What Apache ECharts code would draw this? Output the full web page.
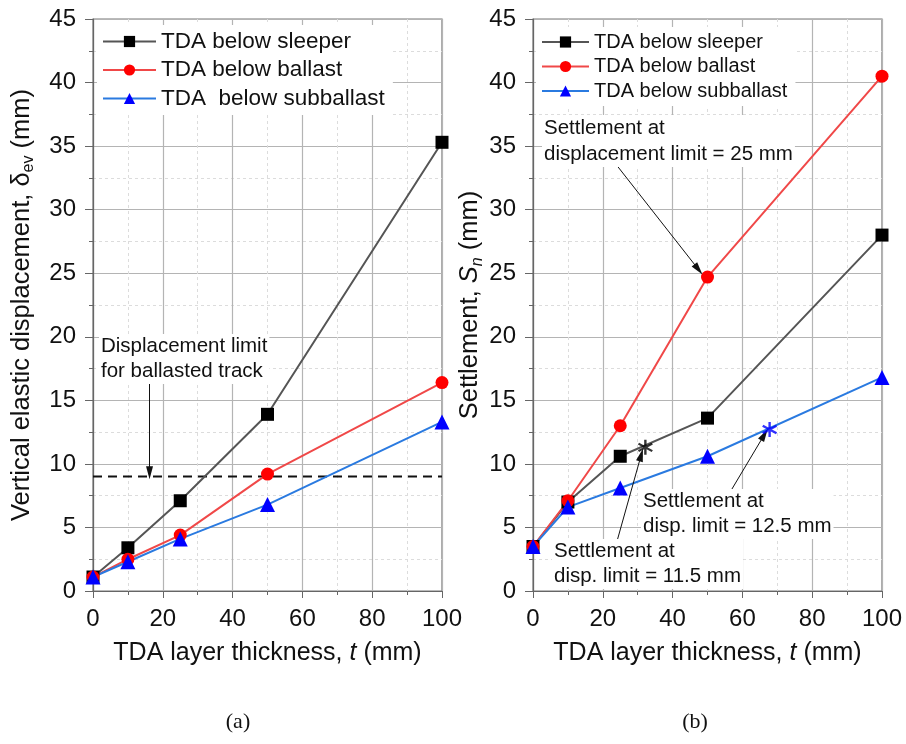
<!DOCTYPE html>
<html>
<head>
<meta charset="utf-8">
<script src="https://cdn.jsdelivr.net/npm/echarts@6/dist/echarts.min.js"></script>
<style>html,body{margin:0;padding:0;background:#fff;}#c{width:906px;height:744px;}</style>
</head>
<body>
<div id="c"></div>
<script>
// ---- data ----
const thickness = [0, 10, 25, 50, 100];
const dispSleeper = [1.1, 3.4, 7.1, 13.9, 35.3];
const dispBallast = [1.1, 2.5, 4.4, 9.2, 16.4];
const dispSubballast = [1.1, 2.3, 4.1, 6.8, 13.3];
const settSleeper = [3.5, 7.0, 10.6, 13.6, 28.0];
const settBallast = [3.5, 7.1, 13.0, 24.7, 40.5];
const settSubballast = [3.5, 6.6, 8.1, 10.6, 16.8];
const dispLimit = 9;
const limitSpan = [0, 100];
const starSleeper = [32.2, 11.3];
const starSubballast = [67.8, 12.7];
const xTicks = {min: 0, max: 100, step: 20};
const yTicks = {min: 0, max: 45, step: 5};
const seriesNames = ['TDA below sleeper', 'TDA below ballast', 'TDA  below subballast'];
const seriesNamesB = ['TDA below sleeper', 'TDA below ballast', 'TDA below subballast'];
// annotation arrows (data coordinates)
const arrowLimit = [[16.2, 16.4], [16.2, 9.3]];
const arrow25 = [[23.4, 33.7], [47.4, 25.3]];
const arrow125 = [[56.3, 7.7], [66.3, 12.3]];
const arrow115 = [[23.9, 3.75], [31.0, 10.7]];

const FONT = "'Liberation Sans', Arial, sans-serif";
const pairs = (xs, ys) => xs.map((x, i) => [x, ys[i]]);

function xAxisCfg(gi) {
  return {
    type: 'value', gridIndex: gi, min: xTicks.min, max: xTicks.max, interval: xTicks.step,
    name: '{a|TDA layer thickness, }{i|t}{a| (mm)}', nameLocation: 'middle', nameGap: 50,
    nameTextStyle: {rich: {a: {fontSize: 25, fontFamily: FONT, color: '#111'}, i: {fontSize: 25, fontFamily: FONT, color: '#111', fontStyle: 'italic'}}},
    axisLine: {show: true, lineStyle: {color: '#666', width: 1.2}},
    axisTick: {show: true, inside: false, length: 7, lineStyle: {color: '#666'}},
    minorTick: {show: true, splitNumber: 2, length: 4, lineStyle: {color: '#666'}},
    axisLabel: {fontSize: 24, fontFamily: FONT, color: '#111', margin: 16},
    splitLine: {show: true, lineStyle: {color: '#b4b4b4', width: 1.2}},
    minorSplitLine: {show: true, lineStyle: {color: '#dcdcdc', type: [3, 3], width: 1}}
  };
}
function yAxisCfg(gi, name, gap) {
  return {
    type: 'value', gridIndex: gi, min: yTicks.min, max: yTicks.max, interval: yTicks.step,
    name: name, nameLocation: 'middle', nameGap: gap,
    nameTextStyle: {rich: {
      a: {fontSize: 25.5, fontFamily: FONT, color: '#111', lineHeight: 30, verticalAlign: 'middle'},
      i: {fontSize: 25.5, fontFamily: FONT, color: '#111', fontStyle: 'italic', lineHeight: 30, verticalAlign: 'middle'},
      s: {fontSize: 16, fontFamily: FONT, color: '#111', verticalAlign: 'bottom', lineHeight: 16},
      si: {fontSize: 16, fontFamily: FONT, color: '#111', fontStyle: 'italic', verticalAlign: 'bottom', lineHeight: 16}
    }},
    axisLine: {show: true, lineStyle: {color: '#666', width: 1.2}},
    axisTick: {show: true, inside: false, length: 8, lineStyle: {color: '#666'}},
    minorTick: {show: true, splitNumber: 2, length: 4, lineStyle: {color: '#666'}},
    axisLabel: {fontSize: 24, fontFamily: FONT, color: '#111', margin: 17},
    splitLine: {show: true, lineStyle: {color: '#b4b4b4', width: 1.2}},
    minorSplitLine: {show: true, lineStyle: {color: '#dcdcdc', type: [3, 3], width: 1}}
  };
}
function lineSeries(name, gi, ys, lineColor, symColor, symbol, size) {
  return {
    type: 'line', name: name, xAxisIndex: gi, yAxisIndex: gi, data: pairs(thickness, ys),
    symbol: symbol, symbolSize: size, showAllSymbol: true,
    lineStyle: {color: lineColor, width: 2}, itemStyle: {color: symColor},
    emphasis: {disabled: true}, z: 3
  };
}
function arrowMark(seg) {
  return [{coord: seg[0], symbol: 'none'}, {coord: seg[1], symbol: 'triangle', symbolSize: [7, 13]}];
}
const STAR = 'path://M-1.5,-10L1.5,-10L1.5,10L-1.5,10ZM7.91,-6.30L9.41,-3.70L-7.91,6.30L-9.41,3.70ZM9.41,3.70L7.91,6.30L-9.41,-3.70L-7.91,-6.30Z';

const chart = echarts.init(document.getElementById('c'), null, {renderer: 'canvas'});
const legendBase = {
  orient: 'vertical', backgroundColor: '#fff', padding: [5, 8, 5, 5],
  itemHeight: 14, selectedMode: false, textStyle: {fontFamily: FONT, color: '#111'}
};
chart.setOption({
  animation: false,
  backgroundColor: '#fff',
  grid: [
    {left: 93, right: 464, top: 19, bottom: 153, show: true, borderColor: '#777', borderWidth: 1.2, backgroundColor: 'transparent'},
    {left: 533, right: 24, top: 19, bottom: 153, show: true, borderColor: '#777', borderWidth: 1.2, backgroundColor: 'transparent'}
  ],
  legend: [
    Object.assign({}, legendBase, {left: 97, top: 25, itemWidth: 53, itemGap: 5.5, data: seriesNames,
      textStyle: {fontFamily: FONT, color: '#111', fontSize: 22.5}}),
    Object.assign({}, legendBase, {left: 536, top: 27, itemWidth: 47, itemGap: 4.5, data: seriesNamesB,
      textStyle: {fontFamily: FONT, color: '#111', fontSize: 20}})
  ],
  xAxis: [xAxisCfg(0), xAxisCfg(1)],
  yAxis: [
    yAxisCfg(0, '{a|Vertical elastic displacement, δ}{s|ev}{a| (mm)}', 56),
    yAxisCfg(1, '{a|Settlement, }{i|S}{si|n}{a| (mm)}', 40)
  ],
  series: [
    {type: 'line', name: 'limit', xAxisIndex: 0, yAxisIndex: 0,
     data: limitSpan.map(x => [x, dispLimit]), symbol: 'none',
     lineStyle: {color: '#111', width: 2, type: [9, 6]}, z: 2, silent: true,
     markLine: {silent: true, label: {show: false}, lineStyle: {color: '#111', width: 1, type: 'solid'},
       data: [arrowMark(arrowLimit)]}},
    lineSeries(seriesNames[0], 0, dispSleeper, '#555555', '#000000', 'rect', 13),
    lineSeries(seriesNames[1], 0, dispBallast, '#f04848', '#ff0000', 'circle', 13),
    lineSeries(seriesNames[2], 0, dispSubballast, '#2a7ae0', '#0000ff', 'triangle', 15),
    lineSeries(seriesNamesB[0], 1, settSleeper, '#555555', '#000000', 'rect', 13),
    lineSeries(seriesNamesB[1], 1, settBallast, '#f04848', '#ff0000', 'circle', 13),
    lineSeries(seriesNamesB[2], 1, settSubballast, '#2a7ae0', '#0000ff', 'triangle', 15),
    {type: 'scatter', name: 'star1', xAxisIndex: 1, yAxisIndex: 1, data: [starSleeper],
     symbol: STAR, symbolSize: 15, itemStyle: {color: '#000'}, z: 5, silent: true,
     markLine: {silent: true, label: {show: false}, lineStyle: {color: '#111', width: 1, type: 'solid'},
       data: [arrowMark(arrow25), arrowMark(arrow115)]}},
    {type: 'scatter', name: 'star2', xAxisIndex: 1, yAxisIndex: 1, data: [starSubballast],
     symbol: STAR, symbolSize: 15, itemStyle: {color: '#0000ff'}, z: 5, silent: true,
     markLine: {silent: true, label: {show: false}, lineStyle: {color: '#111', width: 1, type: 'solid'},
       data: [arrowMark(arrow125)]}}
  ],
  graphic: [
    {type: 'text', z: 10, style: {text: 'Displacement limit\nfor ballasted track', x: 99, y: 334, fontSize: 20.5, fontFamily: FONT, fill: '#111', lineHeight: 25, backgroundColor: '#fff', padding: [0, 2]}},
    {type: 'text', z: 10, style: {text: 'Settlement at\ndisplacement limit = 25 mm', x: 542, y: 115, fontSize: 20.5, fontFamily: FONT, fill: '#111', lineHeight: 26, backgroundColor: '#fff', padding: [0, 2]}},
    {type: 'text', z: 10, style: {text: 'Settlement at\ndisp. limit = 12.5 mm', x: 641, y: 489, fontSize: 20.5, fontFamily: FONT, fill: '#111', lineHeight: 25, backgroundColor: '#fff', padding: [0, 2]}},
    {type: 'text', z: 10, style: {text: 'Settlement at\ndisp. limit = 11.5 mm', x: 552, y: 539, fontSize: 20.5, fontFamily: FONT, fill: '#111', lineHeight: 25, backgroundColor: '#fff', padding: [0, 2]}},
    {type: 'text', style: {text: '(a)', x: 238, y: 722, fontSize: 22, fontFamily: "'Liberation Serif', 'Times New Roman', serif", fill: '#111', align: 'center', verticalAlign: 'middle'}},
    {type: 'text', style: {text: '(b)', x: 695, y: 722, fontSize: 22, fontFamily: "'Liberation Serif', 'Times New Roman', serif", fill: '#111', align: 'center', verticalAlign: 'middle'}}
  ]
});
</script>
</body>
</html>
